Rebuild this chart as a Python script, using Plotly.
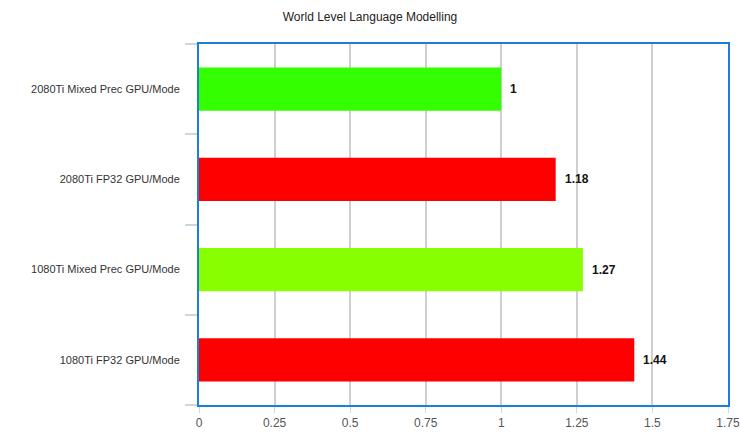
import plotly.graph_objects as go

# data, bottom to top as plotly draws horizontal categories
configs = ['1080Ti FP32 GPU/Mode', '1080Ti Mixed Prec GPU/Mode',
           '2080Ti FP32 GPU/Mode', '2080Ti Mixed Prec GPU/Mode']
rel_time = [1.44, 1.27, 1.18, 1.0]
labels = ['1.44', '1.27', '1.18', '1']
bar_colors = ['#ff0000', '#88ff00', '#ff0000', '#33ff00']
x_ticks = [0, 0.25, 0.5, 0.75, 1, 1.25, 1.5, 1.75]
x_ticktext = ['0', '0.25', '0.5', '0.75', '1', '1.25', '1.5', '1.75']

fig = go.Figure()
fig.add_trace(go.Bar(x=rel_time, y=configs, orientation='h',
                     marker=dict(color=bar_colors, line=dict(width=0)),
                     hoverinfo='x+y'))

# value labels to the right of each bar
for v, c, t in zip(rel_time, configs, labels):
    fig.add_annotation(x=v, y=c, text='<b>' + t + '</b>', showarrow=False,
                       xanchor='left', xshift=7,
                       font=dict(size=12, color='#111'))

fig.update_layout(
    title=dict(text='World Level Language Modelling', x=0.5, xref='container',
               y=0.962, yref='container', yanchor='middle',
               font=dict(size=12, color='#222')),
    font=dict(family='Liberation Sans, Arial, sans-serif', size=12, color='#333'),
    width=740, height=446,
    margin=dict(l=199, r=12, t=44, b=41),
    plot_bgcolor='white', paper_bgcolor='white',
    bargap=0.52, showlegend=False,
    xaxis=dict(range=[0, 1.75], tickvals=x_ticks, ticktext=x_ticktext,
               showgrid=True, gridcolor='#cfcfcf', gridwidth=1.5,
               zeroline=False, ticks='outside', ticklen=6, tickcolor='#c9d6e3',
               showline=True, linecolor='#1a7fd6', linewidth=2, mirror=True,
               automargin=False, ticklabeloverflow='allow',
               tickfont=dict(size=12, color='#555')),
    yaxis=dict(showgrid=False, zeroline=False, ticks='outside', tickson='boundaries',
               ticklen=12, tickcolor='#c9d6e3', tickwidth=1.5, ticklabelstandoff=15,
               showline=True, linecolor='#1a7fd6', linewidth=2, mirror=True,
               automargin=False, tickfont=dict(size=11, color='#333')),
)

# drop the browser's default body margin so the figure sits at the page corner
fig.write_html('out.html', config={'displayModeBar': False},
               post_script="document.body.style.margin='0px';")
